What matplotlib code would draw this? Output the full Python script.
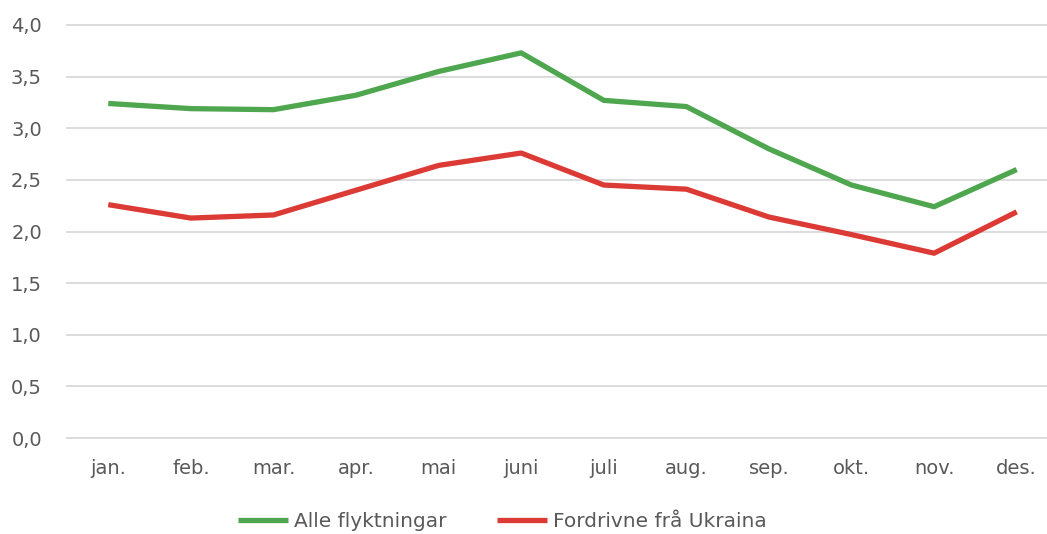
import matplotlib.pyplot as plt

# ── data ──────────────────────────────────────────
months = ["jan.", "feb.", "mar.", "apr.", "mai", "juni",
          "juli", "aug.", "sep.", "okt.", "nov.", "des."]
alle = [3.24, 3.19, 3.18, 3.32, 3.55, 3.73, 3.27, 3.21, 2.80, 2.45, 2.24, 2.60]
ukraina = [2.26, 2.13, 2.16, 2.40, 2.64, 2.76, 2.45, 2.41, 2.14, 1.97, 1.79, 2.19]
yticks = [0.0, 0.5, 1.0, 1.5, 2.0, 2.5, 3.0, 3.5, 4.0]

TXT = "#595959"
plt.rcParams["font.family"] = ["DejaVu Sans"]

fig = plt.figure(figsize=(10.47, 5.34), dpi=100)
# plot area runs slightly past the right edge (cropped like the original)
ax = fig.add_axes([67 / 1047, 96 / 534, 991 / 1047, 413 / 534])

x = range(len(months))
ax.plot(x, alle, color="#4EA64E", lw=3.8, label="Alle flyktningar",
        solid_joinstyle="round", solid_capstyle="butt")
ax.plot(x, ukraina, color="#DC3A35", lw=3.8, label="Fordrivne frå Ukraina",
        solid_joinstyle="round", solid_capstyle="butt")

ax.set_xlim(-0.5, len(months) - 0.5)
ax.set_ylim(0, 4.0)
ax.set_yticks(yticks)
ax.set_yticklabels([f"{v:.1f}".replace(".", ",") for v in yticks])
ax.set_xticks(list(x))
ax.set_xticklabels(months)

ax.grid(axis="y", color="#D9D9D9", lw=1.3)
ax.set_axisbelow(True)
for s in ax.spines.values():
    s.set_visible(False)
ax.tick_params(axis="both", length=0, labelsize=14, colors=TXT)
ax.tick_params(axis="y", pad=18)
ax.tick_params(axis="x", pad=15)
for gl in ax.get_ygridlines():
    gl.set_clip_on(False)

fig.legend(loc="center", bbox_to_anchor=(0.480, 0.0225), ncol=2, frameon=False,
           fontsize=14.5, labelcolor=TXT, handlelength=2.5, handletextpad=0.3,
           columnspacing=2.5)

fig.savefig("out.png", dpi=100)
